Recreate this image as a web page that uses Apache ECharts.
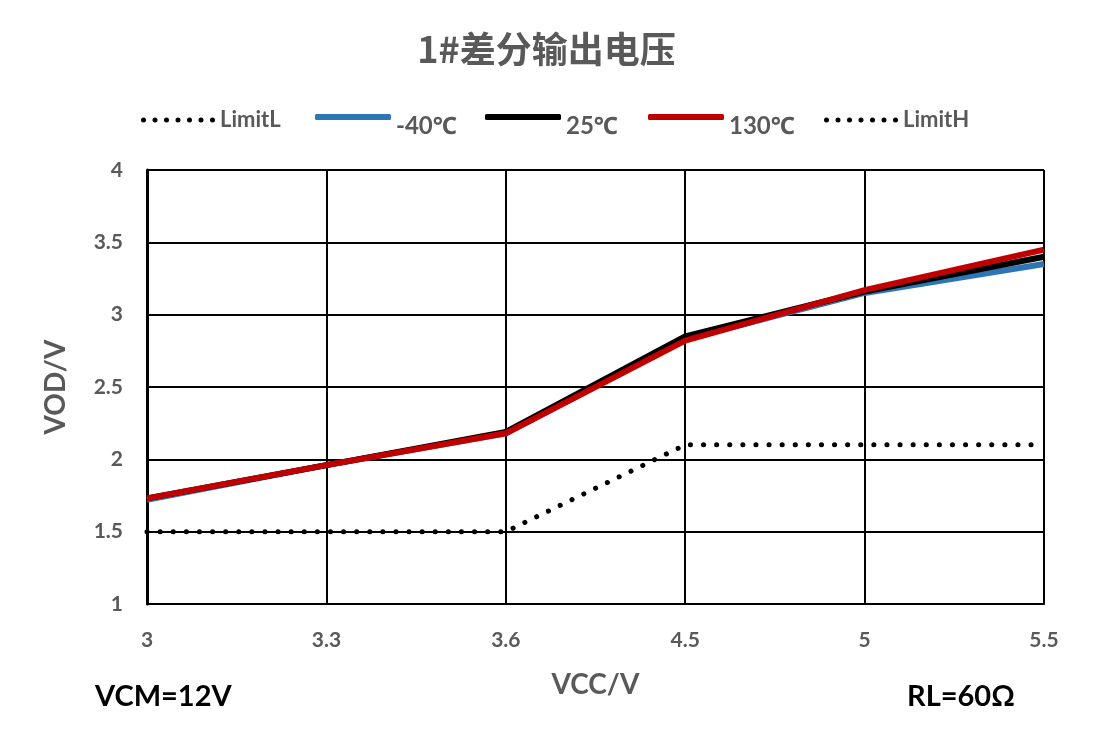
<!DOCTYPE html>
<html><head><meta charset="utf-8">
<script src="https://cdn.jsdelivr.net/npm/echarts@6/dist/echarts.min.js"></script>
<style>html,body{margin:0;padding:0;background:#fff}#c{width:1093px;height:738px}</style>
</head><body><div id="c"></div>
<script>
var categories = ['3', '3.3', '3.6', '4.5', '5', '5.5'];
var limitL = [1.5, 1.5, 1.5, 2.1, 2.1, 2.1];
var tempM40 = [1.72, 1.96, 2.18, 2.83, 3.15, 3.35];
var temp25 = [1.73, 1.96, 2.19, 2.85, 3.16, 3.40];
var temp130 = [1.73, 1.96, 2.18, 2.82, 3.17, 3.45];
var limitH = [null, null, null, null, null, null];
var yTicks = [1, 1.5, 2, 2.5, 3, 3.5, 4];

var gray = '#595959';
var font = 'Lato, "Noto Sans", sans-serif';
var chart = echarts.init(document.getElementById('c'), null, {renderer: 'canvas'});
var dotsIcon = 'path://';
for (var i = 0; i < 7; i++) {
  var cx = 2.5 + i * 11.5;
  dotsIcon += 'M' + (cx - 2.5) + ',2.5a2.5,2.5 0 1,0 5,0a2.5,2.5 0 1,0 -5,0';
}
function leg(name, left, top, fs, dotted, padTop) {
  return {
    data: [{name: name, icon: dotted ? dotsIcon : 'roundRect'}],
    left: left, top: top,
    itemWidth: dotted ? 74 : 76, itemHeight: dotted ? 5 : 6, itemGap: 5,
    formatter: '{t|{name}}',
    textStyle: {
      color: gray, fontWeight: 'bold', fontFamily: font, fontSize: fs,
      rich: {t: {color: gray, fontWeight: 'bold', fontFamily: font, fontSize: fs, padding: [padTop, 0, 0, 0]}}
    },
    itemStyle: {borderWidth: 0},
    lineStyle: {width: 0},
    selectedMode: false
  };
}
var dotted = {color: '#000', width: 5, type: [0.1, 13], cap: 'round'};
chart.setOption({
  animation: false,
  title: {
    text: '1#差分输出电压', left: 'center', top: 26,
    textStyle: {color: gray, fontSize: 36, fontWeight: 'bold', fontFamily: '"Noto Sans CJK SC", sans-serif'}
  },
  legend: [
    leg('LimitL', 136, 104, 22, true, 0),
    leg('-40℃', 310, 109, 24, false, 18),
    leg('25℃', 480, 109, 24, false, 18),
    leg('130℃', 643, 109, 24, false, 18),
    leg('LimitH', 819, 104, 22, true, 0)
  ],
  grid: {left: 147, right: 49, top: 170, bottom: 134},
  xAxis: {
    type: 'category', data: categories, boundaryGap: false,
    name: 'VCC/V', nameLocation: 'middle', nameGap: 67,
    nameTextStyle: {color: gray, fontSize: 28, fontWeight: 'bold', fontFamily: font},
    axisLine: {lineStyle: {color: '#000', width: 2}},
    axisTick: {show: false},
    axisLabel: {color: gray, fontSize: 21, fontWeight: 'bold', fontFamily: font, margin: 26},
    splitLine: {show: true, lineStyle: {color: '#000', width: 2}}
  },
  yAxis: {
    type: 'value', min: yTicks[0], max: yTicks[yTicks.length - 1], interval: 0.5,
    name: 'VOD/V', nameLocation: 'middle', nameGap: 77, nameRotate: 90,
    nameTextStyle: {color: gray, fontSize: 28, fontWeight: 'bold', fontFamily: font},
    axisLine: {show: true, lineStyle: {color: '#000', width: 3}},
    axisTick: {show: false},
    axisLabel: {color: gray, fontSize: 21, fontWeight: 'bold', fontFamily: font, margin: 24},
    splitLine: {show: true, lineStyle: {color: '#000', width: 2}}
  },
  graphic: [
    {type: 'text', left: 95, top: 682, style: {text: 'VCM=12V', fill: '#000', font: 'bold 29px ' + font}},
    {type: 'text', left: 907, top: 682, style: {text: 'RL=60Ω', fill: '#000', font: 'bold 29px ' + font}}
  ],
  series: [
    {name: 'LimitL', type: 'line', data: limitL, symbol: 'none', lineStyle: dotted, itemStyle: {color: '#000'}, z: 5},
    {name: '-40℃', type: 'line', data: tempM40, symbol: 'none', lineStyle: {color: '#2e75b6', width: 6}, itemStyle: {color: '#2e75b6'}, z: 6},
    {name: '25℃', type: 'line', data: temp25, symbol: 'none', lineStyle: {color: '#000', width: 6}, itemStyle: {color: '#000'}, z: 7},
    {name: '130℃', type: 'line', data: temp130, symbol: 'none', lineStyle: {color: '#c00000', width: 6}, itemStyle: {color: '#c00000'}, z: 8},
    {name: 'LimitH', type: 'line', data: limitH, symbol: 'none', lineStyle: dotted, itemStyle: {color: '#000'}, z: 5}
  ]
});
</script></body></html>
